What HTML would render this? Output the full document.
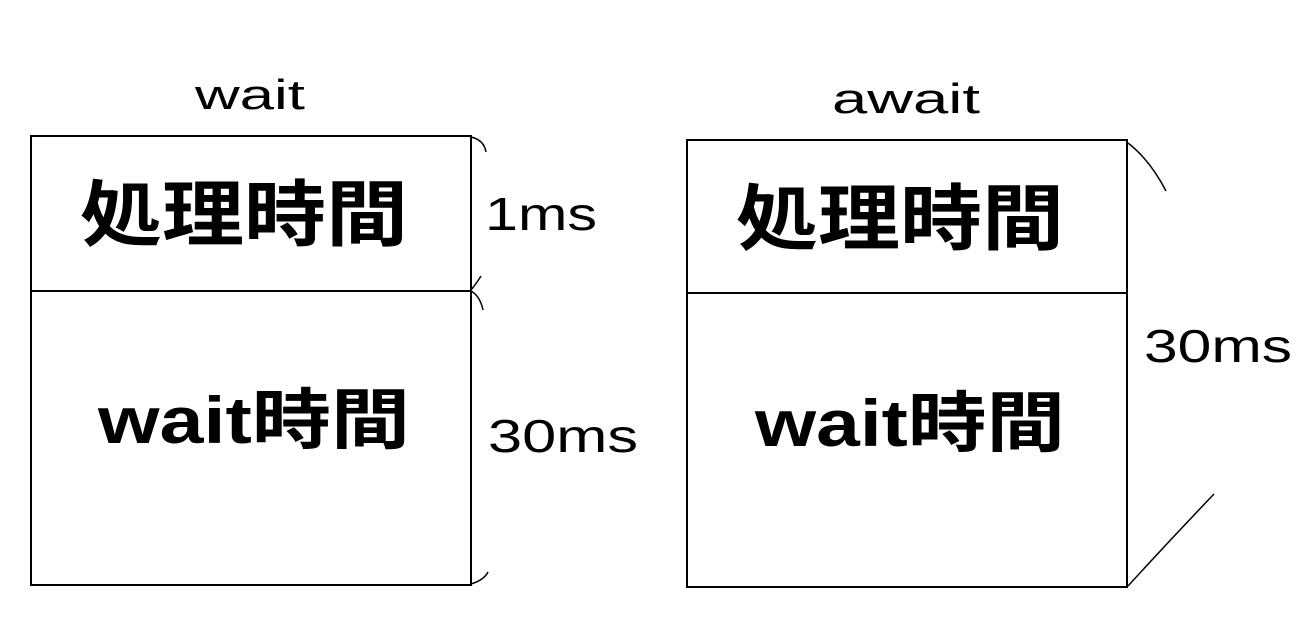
<!DOCTYPE html>
<html><head><meta charset="utf-8"><style>
html,body{margin:0;padding:0;background:#fff;}
svg{display:block;}
text{font-family:"Liberation Sans","Noto Sans CJK JP",sans-serif;fill:#000;}
</style></head><body>
<svg width="1300" height="632" viewBox="0 0 1300 632" xmlns="http://www.w3.org/2000/svg">
<g fill="none" stroke="#000" stroke-width="2">
<rect x="31" y="136" width="440" height="449"/>
<line x1="31" y1="291" x2="471" y2="291"/>
<rect x="687" y="140" width="440" height="447"/>
<line x1="687" y1="293" x2="1127" y2="293"/>
<path d="M471 137 Q484 140 486 152" stroke-width="1.5"/>
<path d="M471 290 Q476 284 481 276" stroke-width="1.5"/>
<path d="M471 291 Q480 296 483 310" stroke-width="1.5"/>
<path d="M471 584 Q484 580 488 572" stroke-width="1.5"/>
<path d="M1128 143 Q1150 160 1166 191" stroke-width="1.5"/>
<path d="M1128 586 Q1170 540 1214 494" stroke-width="1.5"/>
</g>
<text x="195" y="109" font-size="42" textLength="110" lengthAdjust="spacingAndGlyphs">wait</text>
<text x="832" y="113" font-size="42" textLength="148" lengthAdjust="spacingAndGlyphs">await</text>
<text x="80" y="240" font-size="72" font-weight="bold" textLength="328" lengthAdjust="spacingAndGlyphs">処理時間</text>
<text x="736" y="244" font-size="72" font-weight="bold" textLength="328" lengthAdjust="spacingAndGlyphs">処理時間</text>
<text x="98" y="443" font-size="66" font-weight="bold" textLength="312" lengthAdjust="spacingAndGlyphs">wait時間</text>
<text x="755" y="446" font-size="66" font-weight="bold" textLength="310" lengthAdjust="spacingAndGlyphs">wait時間</text>
<text x="485" y="230" font-size="46" textLength="112" lengthAdjust="spacingAndGlyphs">1ms</text>
<text x="488" y="452" font-size="46" textLength="150" lengthAdjust="spacingAndGlyphs">30ms</text>
<text x="1144" y="362" font-size="46" textLength="148" lengthAdjust="spacingAndGlyphs">30ms</text>
</svg>
</body></html>
